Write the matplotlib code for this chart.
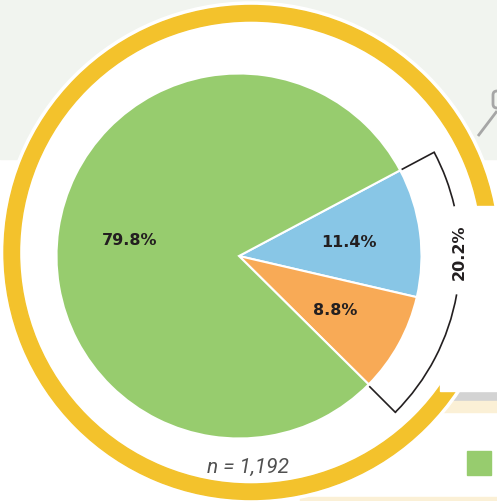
import matplotlib
matplotlib.use('Agg')
import matplotlib.pyplot as plt
import numpy as np
from matplotlib.patches import Rectangle, Circle, Wedge, Arc, FancyBboxPatch

W, H = 497, 502

# datos del grafico
etiquetas = ['Azul', 'Naranja', 'Verde']
valores = [11.4, 8.8, 79.8]
colores = ['#88c6e6', '#f8aa56', '#97cc6e']
total_grupo = '20.2%'
n_texto = 'n = 1,192'

def Y(y):
    # paso de coordenadas de imagen (y hacia abajo) a y hacia arriba
    return H - y

fig = plt.figure(figsize=(W / 100, H / 100), dpi=100)
ax = fig.add_axes([0, 0, 1, 1])

# fondos
ax.add_patch(Rectangle((0, Y(160)), W, 160, color='#f1f4ef', zorder=0))
ax.add_patch(Rectangle((440, Y(402)), 60, 10, color='#d3d3d3', zorder=0))
ax.add_patch(Rectangle((440, Y(413)), 60, 11, color='#fbf0d6', zorder=0))
ax.add_patch(Rectangle((300, Y(505)), 200, 7, color='#fbf0d6', zorder=0))
ax.add_patch(Rectangle((467, Y(476)), 24, 24, color='#97cc6e', zorder=0))

# conector arriba a la derecha
ax.plot([478, 497], [Y(137), Y(112)], color='#a6a6a6', lw=2, zorder=1, solid_capstyle='butt')
ax.add_patch(FancyBboxPatch((493, Y(109)), 20, 17, boxstyle='round,pad=0,rounding_size=4',
                            fc='#f1f4ef', ec='#a6a6a6', lw=2, zorder=1))

# anillo amarillo
cx_a, cy_a = 251, Y(253.5)
ax.add_patch(Circle((cx_a, cy_a), 250.5, color='white', zorder=2))
ax.add_patch(Wedge((cx_a, cy_a), 247, 0, 360, width=15.5, color='#f3c22c', zorder=3))
ax.add_patch(Rectangle((440, Y(392)), 60, 185, color='white', zorder=4))

# torta
cx, cy = 239, Y(257)
wedges, textos, autotextos = ax.pie(
    valores, colors=colores, startangle=28, counterclock=False,
    center=(cx, cy), radius=182.5, autopct='%.1f%%', pctdistance=0.605,
    wedgeprops=dict(edgecolor='white', linewidth=1.5),
    textprops=dict(fontsize=11.5, fontweight='bold', color='#231f20'))
for w in wedges:
    w.set_zorder(5)
for t in autotextos:
    t.set_zorder(6)

# corchete de 20.2%
r_in, r_out = 185, 221
for a1, a2 in [(13, 28), (-45, -10)]:
    ax.add_patch(Arc((cx, cy), 2 * r_out, 2 * r_out, theta1=a1, theta2=a2,
                     color='#231f20', lw=1.2, zorder=6))
for ang in [28, -45]:
    t = np.radians(ang)
    ax.plot([cx + r_in * np.cos(t), cx + r_out * np.cos(t)],
            [cy + r_in * np.sin(t), cy + r_out * np.sin(t)],
            color='#231f20', lw=1.2, zorder=6)
ax.text(459.5, Y(252.5), total_grupo, rotation=90, ha='center', va='center',
        fontsize=11.5, fontweight='bold', color='#231f20', zorder=7)

ax.text(248, Y(467), n_texto, ha='center', va='center', fontsize=15,
        family='Roboto', style='italic', color='#505050', zorder=7)

ax.set_xlim(0, W)
ax.set_ylim(0, H)
ax.set_aspect('equal')
ax.axis('off')

fig.savefig('out.png', dpi=100)
